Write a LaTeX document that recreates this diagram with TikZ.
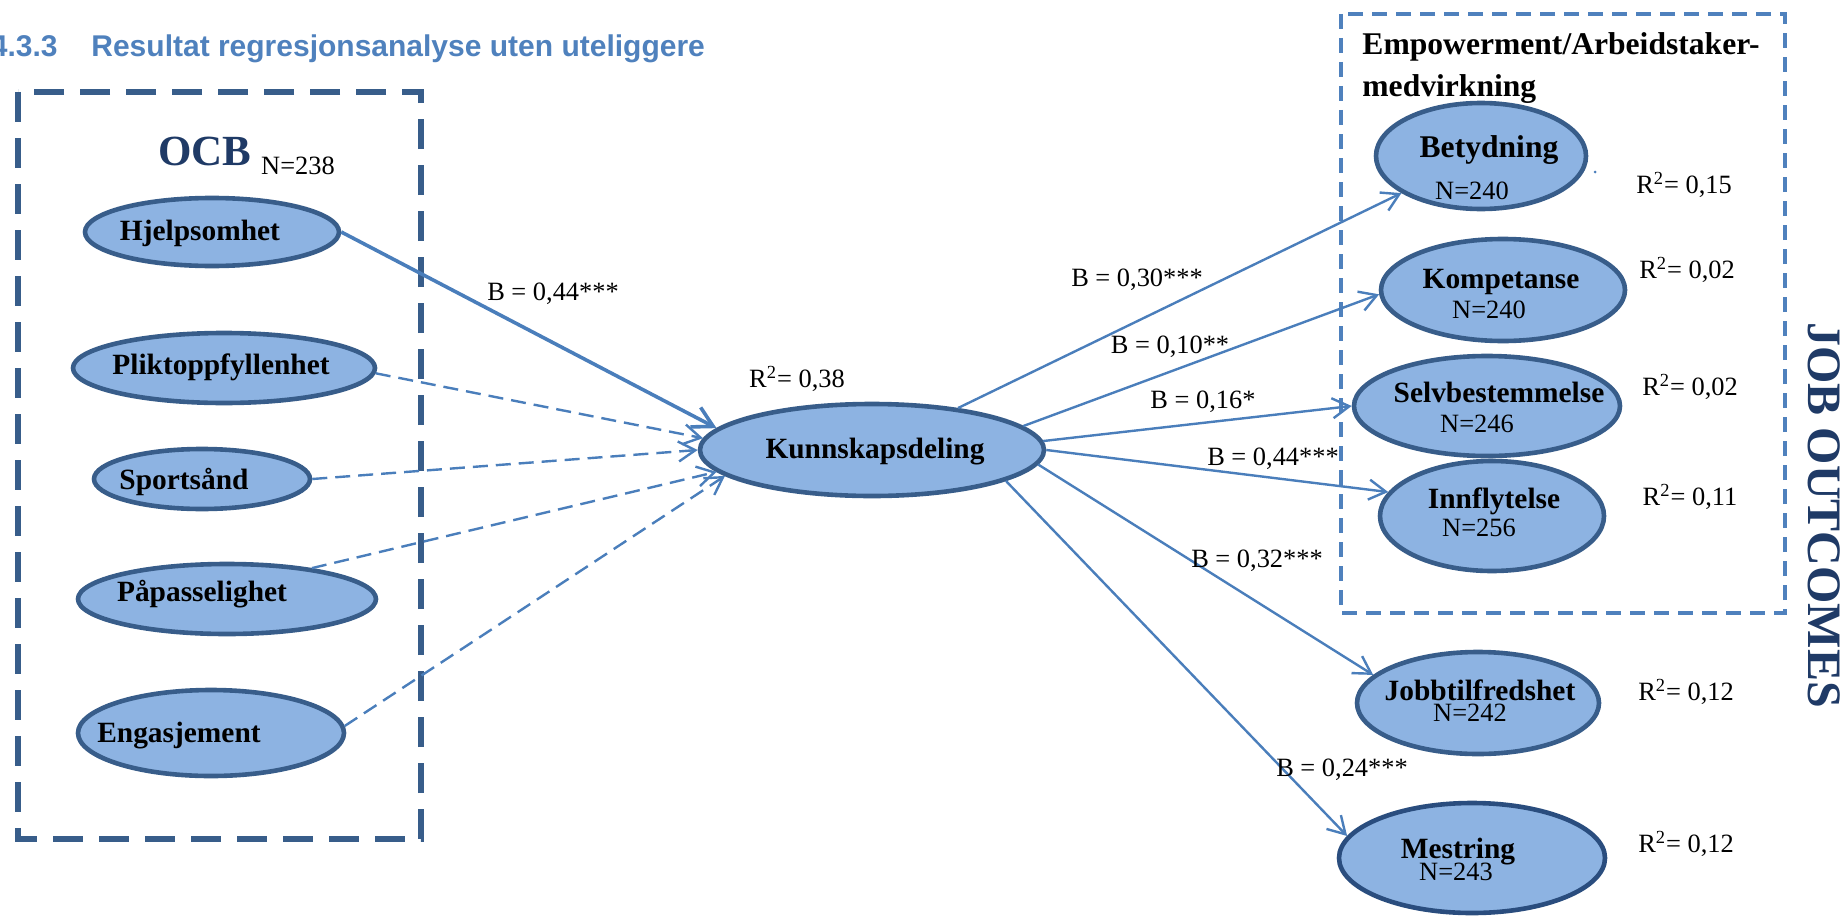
\documentclass[tikz,border=0pt]{standalone}
\usepackage{fontspec}
\setmainfont{Liberation Serif}
\newfontfamily\headfont{Liberation Sans}
\usetikzlibrary{arrows.meta,shapes.geometric}

\definecolor{ellfill}{HTML}{8DB3E2}
\definecolor{ellline}{HTML}{385D8A}
\definecolor{mesline}{HTML}{2A4D7E}
\definecolor{arrowblue}{HTML}{4A7EBB}
\definecolor{boxdark}{HTML}{385D8A}
\definecolor{boxlight}{HTML}{4F81BD}
\definecolor{navy}{HTML}{1F3A66}
\definecolor{titleblue}{HTML}{4F81BD}

\tikzset{
  construct/.style={ellipse, draw=ellline, line width=2.3pt, fill=ellfill, inner sep=0pt},
  lbl/.style={font=\fontsize{14.7}{17}\selectfont\bfseries, inner sep=0pt, anchor=base},
  biglbl/.style={font=\fontsize{15.8}{18}\selectfont\bfseries, inner sep=0pt, anchor=base},
  num/.style={font=\fontsize{13.2}{15}\selectfont, inner sep=0pt, anchor=base},
  tip/.style={-{Straight Barb[length=8.5pt,width=10pt]}},
  bigtip/.style={-{Straight Barb[length=10pt,width=11pt]}},
  strongpath/.style={draw=arrowblue, line width=1.8pt, bigtip},
  weakpath/.style={draw=arrowblue, line width=1.2pt, dash pattern=on 7.5pt off 4pt, tip},
  outpath/.style={draw=arrowblue, line width=1.2pt, tip},
  groupdark/.style={draw=boxdark, line width=2.6pt, dash pattern=on 15pt off 8pt},
  grouplight/.style={draw=boxlight, line width=2pt, dash pattern=on 7.5pt off 4.5pt},
}

\begin{document}
\begin{tikzpicture}[x=0.5pt,y=-0.5pt]
\useasboundingbox (0,0) rectangle (1845,915);

% section heading
\node[anchor=base east, inner sep=0pt, font=\headfont\fontsize{15}{18}\selectfont\bfseries, text=titleblue] (secnum) at (58,57) {4.3.3};
\node[anchor=base west, inner sep=0pt, font=\headfont\fontsize{15}{18}\selectfont\bfseries, text=titleblue] (sectitle) at (91,57) {Resultat regresjonsanalyse uten uteliggere};

% group frames
\draw[groupdark] (18,92) rectangle (421,839);
\draw[grouplight] (1341,14) rectangle (1785,613);

% OCB group title
\node[inner sep=0pt, anchor=base, font=\fontsize{21.5}{24}\selectfont\bfseries, text=navy] (ocb) at (205,165) {OCB};
\node[num] (ocbn) at (298,174) {N=238};

% OCB dimensions
\node[construct, minimum width=127pt, minimum height=34pt] (hj) at (212,232) {};
\node[construct, minimum width=151pt, minimum height=35pt] (pl) at (224,368) {};
\node[construct, minimum width=108pt, minimum height=30pt] (sp) at (202,479) {};
\node[construct, minimum width=149pt, minimum height=35pt] (pa) at (227,599) {};
\node[construct, minimum width=133pt, minimum height=43pt] (en) at (211,733) {};
\node[lbl] (hjt) at (200,240) {Hjelpsomhet};
\node[lbl] (plt) at (221,374) {Pliktoppfyllenhet};
\node[lbl] (spt) at (184,489) {Sportsånd};
\node[lbl] (pat) at (202,601) {Påpasselighet};
\node[lbl] (ent) at (179,742) {Engasjement};

% mediator
\node[construct, minimum width=172pt, minimum height=46pt] (kd) at (872,450) {};
\node[lbl] (kdt) at (875,458) {Kunnskapsdeling};
\node[num] (kdr) at (797,387) {R\textsuperscript{2}= 0,38};

% empowerment group
\node[biglbl, anchor=base west] (emp1) at (1362,55) {Empowerment/Arbeidstaker-};
\node[biglbl, anchor=base west] (emp2) at (1362,97) {medvirkning};

\node[construct, minimum width=105pt, minimum height=53pt] (be) at (1481,156) {};
\node[construct, minimum width=122pt, minimum height=51pt] (ko) at (1503,290) {};
\node[construct, minimum width=133pt, minimum height=50pt] (se) at (1487,406) {};
\node[construct, minimum width=112pt, minimum height=55pt] (inn) at (1492,516) {};
\node[construct, minimum width=121pt, minimum height=51pt] (jo) at (1478,703) {};
\node[construct, draw=mesline, minimum width=133pt, minimum height=55pt] (me) at (1472,858) {};

\node[biglbl] (bet) at (1489,157) {Betydning};
\node[num] (ben) at (1472,199) {N=240};
\node[lbl] (kot) at (1501,288) {Kompetanse};
\node[num] (kon) at (1489,318) {N=240};
\node[lbl] (set) at (1499,402) {Selvbestemmelse};
\node[num] (sen) at (1477,432) {N=246};
\node[lbl] (innt) at (1494,508) {Innflytelse};
\node[num] (innn) at (1479,536) {N=256};
\node[lbl] (jot) at (1480,700) {Jobbtilfredshet};
\node[num] (jon) at (1470,721) {N=242};
\node[lbl] (met) at (1458,858) {Mestring};
\node[num] (men) at (1456,880) {N=243};

\node[circle, fill=arrowblue, inner sep=0pt, minimum size=1.5pt] (dot) at (1595,172) {};

% explained variance
\node[num] (ber) at (1684,193) {R\textsuperscript{2}= 0,15};
\node[num] (kor) at (1687,278) {R\textsuperscript{2}= 0,02};
\node[num] (ser) at (1690,395) {R\textsuperscript{2}= 0,02};
\node[num] (innr) at (1690,505) {R\textsuperscript{2}= 0,11};
\node[num] (jor) at (1686,700) {R\textsuperscript{2}= 0,12};
\node[num] (mer) at (1686,852) {R\textsuperscript{2}= 0,12};

\node[rotate=-90, inner sep=0pt, font=\fontsize{24}{28}\selectfont\bfseries, text=navy] (jobout) at (1824,515) {JOB OUTCOMES};

% paths into the mediator
\draw[strongpath] (hj.east) -- (kd.172);
\draw[weakpath] (pl.-2) -- (kd.176);
\draw[weakpath] (sp.east) -- (kd.180);
\draw[weakpath] (pa.20) -- (kd.188);
\draw[weakpath] (en.3) -- (kd.190);

% paths out of the mediator
\draw[outpath] (kd.26) -- (be.205);
\draw[outpath] (kd.9) -- (ko.182);
\draw[outpath] (kd.3) -- (se.west);
\draw[outpath] (kd.east) -- (inn.167);
\draw[outpath] (kd.-5) -- (jo.165);
\draw[outpath] (kd.-13) -- (me.170);

% path coefficients
\node[num] (b1) at (553,300) {B = 0,44***};
\node[num] (b2) at (1137,286) {B = 0,30***};
\node[num] (b3) at (1170,353) {B = 0,10**};
\node[num] (b4) at (1203,408) {B = 0,16*};
\node[num] (b5) at (1273,465) {B = 0,44***};
\node[num] (b6) at (1257,567) {B = 0,32***};
\node[num] (b7) at (1342,776) {B = 0,24***};
\end{tikzpicture}
\end{document}
